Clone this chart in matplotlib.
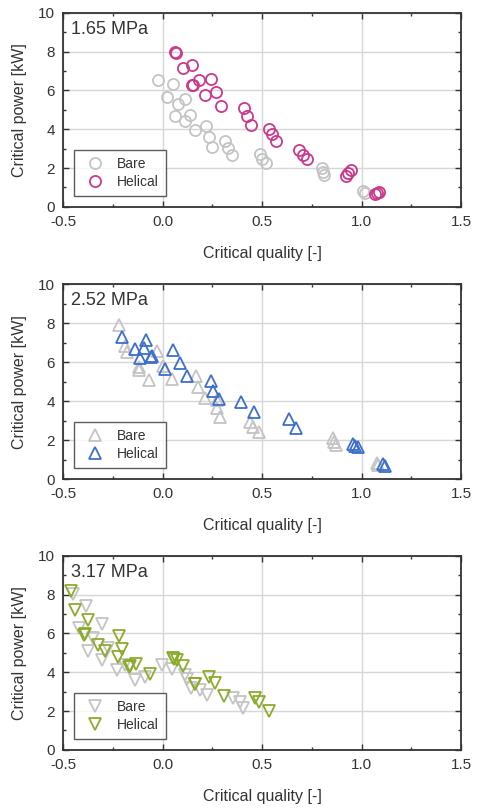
import matplotlib
matplotlib.use("Agg")
import matplotlib.pyplot as plt
from matplotlib.ticker import MultipleLocator

plt.rcParams['font.family'] = ['Liberation Sans', 'DejaVu Sans']

# 1.65 MPa
bare1_x = [-0.025, 0.05, 0.02, 0.114, 0.077, 0.062, 0.137, 0.114, 0.161, 0.218, 0.233, 0.248,
           0.313, 0.33, 0.35, 0.489, 0.50, 0.518, 0.799, 0.804, 0.81, 1.008, 1.017]
bare1_y = [6.56, 6.32, 5.64, 5.56, 5.30, 4.68, 4.75, 4.44, 3.94, 4.18, 3.60, 3.08,
           3.39, 3.03, 2.68, 2.74, 2.46, 2.24, 2.00, 1.82, 1.65, 0.84, 0.71]
hel1_x = [0.062, 0.066, 0.104, 0.147, 0.149, 0.153, 0.184, 0.213, 0.244, 0.266, 0.291, 0.407,
          0.425, 0.445, 0.534, 0.551, 0.568, 0.686, 0.707, 0.724, 0.921, 0.93, 0.945,
          1.067, 1.075, 1.089]
hel1_y = [7.97, 7.95, 7.18, 7.31, 6.28, 6.30, 6.54, 5.77, 6.61, 5.94, 5.21, 5.11,
          4.66, 4.23, 4.03, 3.75, 3.42, 2.91, 2.68, 2.49, 1.60, 1.77, 1.89,
          0.66, 0.70, 0.74]

# 2.52 MPa
bare2_x = [-0.22, -0.19, -0.18, -0.119, -0.119, -0.067, -0.03, 0.003, 0.048, 0.167, 0.179, 0.211,
           0.271, 0.274, 0.288, 0.44, 0.455, 0.486, 0.854, 0.861, 0.871, 1.075, 1.083]
bare2_y = [7.91, 6.83, 6.52, 5.76, 5.62, 5.11, 6.57, 5.79, 5.14, 5.28, 4.71, 4.16,
           4.07, 3.64, 3.21, 2.92, 2.69, 2.43, 2.09, 1.92, 1.75, 0.83, 0.71]
hel2_x = [-0.203, -0.138, -0.084, -0.094, -0.114, -0.059, -0.055, 0.053, 0.013, 0.087, 0.124,
          0.241, 0.254, 0.284, 0.392, 0.459, 0.636, 0.67, 0.958, 0.966, 0.983, 1.109, 1.117]
hel2_y = [7.31, 6.66, 7.12, 6.74, 6.24, 6.26, 6.30, 6.62, 5.67, 5.97, 5.28,
          5.02, 4.54, 4.11, 3.98, 3.43, 3.07, 2.64, 1.83, 1.70, 1.63, 0.76, 0.70]

# 3.17 MPa
bare3_x = [-0.449, -0.385, -0.419, -0.307, -0.349, -0.374, -0.307, -0.273, -0.228, -0.189, -0.139,
           -0.087, -0.005, 0.047, 0.112, 0.124, 0.142, 0.187, 0.221, 0.355, 0.388, 0.402]
bare3_y = [8.04, 7.44, 6.29, 6.50, 5.76, 5.08, 4.62, 5.25, 4.10, 4.36, 3.59,
           3.76, 4.36, 4.15, 3.88, 3.63, 3.20, 3.08, 2.82, 2.65, 2.45, 2.17]
hel3_x = [-0.462, -0.442, -0.375, -0.395, -0.39, -0.324, -0.288, -0.218, -0.205, -0.223, -0.169,
          -0.165, -0.136, -0.064, 0.053, 0.058, 0.07, 0.10, 0.161, 0.165, 0.233, 0.263, 0.31,
          0.464, 0.484, 0.534]
hel3_y = [8.20, 7.23, 6.67, 5.90, 5.95, 5.38, 5.08, 5.85, 5.18, 4.79, 4.26,
          4.30, 4.45, 3.93, 4.75, 4.70, 4.65, 4.33, 3.37, 3.40, 3.76, 3.46, 2.77,
          2.65, 2.48, 2.02]

panels = [
    ("1.65 MPa", bare1_x, bare1_y, hel1_x, hel1_y, "o", "#c93a8c", [0.744, 0.984]),
    ("2.52 MPa", bare2_x, bare2_y, hel2_x, hel2_y, "^", "#3d6fca", [0.407, 0.648]),
    ("3.17 MPa", bare3_x, bare3_y, hel3_x, hel3_y, "v", "#8cab2c", [0.072, 0.312]),
]

fig = plt.figure(figsize=(4.78, 8.08), dpi=100)
dark = "#333333"

for label, bx, by, hx, hy, mk, col, (bot, top) in panels:
    ax = fig.add_axes([0.132, bot, 0.833, top - bot])
    ax.plot(bx, by, mk, ls="none", ms=8, mfc="none", mec="#c4c4c4", mew=1.3, label="Bare")
    ax.plot(hx, hy, mk, ls="none", ms=8, mfc="none", mec=col, mew=1.3, label="Helical")
    ax.set_xlim(-0.5, 1.5)
    ax.set_ylim(0, 10)
    ax.xaxis.set_major_locator(MultipleLocator(0.5))
    ax.xaxis.set_minor_locator(MultipleLocator(0.25))
    ax.yaxis.set_major_locator(MultipleLocator(2))
    ax.yaxis.set_minor_locator(MultipleLocator(1))
    ax.xaxis.set_major_formatter(matplotlib.ticker.FormatStrFormatter('%.1f'))
    ax.grid(True, which="major", color="#d6d6d6", lw=1.0)
    ax.set_axisbelow(True)
    ax.tick_params(which="both", direction="in", top=True, right=True, colors=dark,
                   labelsize=11, labelcolor=dark)
    ax.tick_params(which="major", length=4, width=1.0, pad=6)
    ax.tick_params(which="minor", length=2.5, width=1.0)
    for s in ax.spines.values():
        s.set_color(dark)
        s.set_linewidth(1.3)
    ax.set_xlabel("Critical quality [-]", fontsize=11.5, color=dark, labelpad=12)
    ax.set_ylabel("Critical power [kW]", fontsize=11.5, color=dark, labelpad=8)
    ax.text(0.02, 0.96, label, transform=ax.transAxes, ha="left", va="top",
            fontsize=13, color=dark)
    leg = ax.legend(loc="lower left", fontsize=10, frameon=True, fancybox=False,
                    edgecolor=dark, handletextpad=0.6, borderpad=0.5, labelspacing=0.3,
                    bbox_to_anchor=(0.01, 0.02))
    leg.get_frame().set_linewidth(1.0)
    for t in leg.get_texts():
        t.set_color(dark)

fig.savefig("out.png", dpi=100)
